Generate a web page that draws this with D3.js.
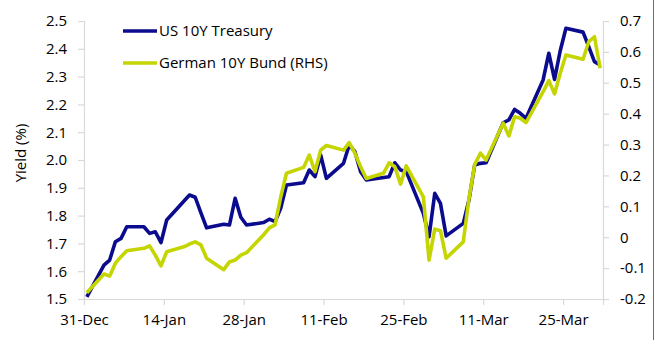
<!DOCTYPE html>
<html>
<head>
<meta charset="utf-8">
<script src="https://cdn.jsdelivr.net/npm/d3@7"></script>
<style>
  body { margin: 0; background: #fff; }
  svg { display: block; font-family: "Open Sans", Lato, sans-serif; }
</style>
</head>
<body>
<div id="chart"></div>
<script>
// trading days, Dec 2021 - Mar 2022
const dates = [
  "2021-12-31",
  "2022-01-03", "2022-01-04", "2022-01-05", "2022-01-06", "2022-01-07",
  "2022-01-10", "2022-01-11", "2022-01-12", "2022-01-13", "2022-01-14",
  "2022-01-17", "2022-01-18", "2022-01-19", "2022-01-20", "2022-01-21",
  "2022-01-24", "2022-01-25", "2022-01-26", "2022-01-27", "2022-01-28",
  "2022-01-31", "2022-02-01", "2022-02-02", "2022-02-03", "2022-02-04",
  "2022-02-07", "2022-02-08", "2022-02-09", "2022-02-10", "2022-02-11",
  "2022-02-14", "2022-02-15", "2022-02-16", "2022-02-17", "2022-02-18",
  "2022-02-21", "2022-02-22", "2022-02-23", "2022-02-24", "2022-02-25",
  "2022-02-28", "2022-03-01", "2022-03-02", "2022-03-03", "2022-03-04",
  "2022-03-07", "2022-03-08", "2022-03-09", "2022-03-10", "2022-03-11",
  "2022-03-14", "2022-03-15", "2022-03-16", "2022-03-17", "2022-03-18",
  "2022-03-21", "2022-03-22", "2022-03-23", "2022-03-24", "2022-03-25",
  "2022-03-28", "2022-03-29", "2022-03-30", "2022-03-31"
];

// US 10Y Treasury yield (%), left axis; null = US holiday
const usYield = [
  1.508,
  1.622, 1.640, 1.706, 1.718, 1.760,
  1.760, 1.736, 1.742, 1.703, 1.784,
  null, 1.874, 1.866, 1.810, 1.756,
  1.769, 1.766, 1.862, 1.794, 1.766,
  1.775, 1.787, 1.778, 1.827, 1.910,
  1.918, 1.964, 1.940, 2.018, 1.934,
  1.988, 2.054, 2.030, 1.958, 1.928,
  null, 1.940, 1.990, 1.964, 1.958,
  1.808, 1.724, 1.880, 1.844, 1.727,
  1.772, 1.856, 1.982, 1.988, 1.990,
  2.134, 2.144, 2.182, 2.168, 2.150,
  2.288, 2.384, 2.290, 2.393, 2.474,
  2.460, 2.408, 2.354, 2.342
];

// German 10Y Bund yield (%), right axis
const bundYield = [
  -0.180,
  -0.119, -0.126, -0.084, -0.063, -0.044,
  -0.036, -0.028, -0.058, -0.093, -0.047,
  -0.031, -0.022, -0.015, -0.025, -0.068,
  -0.105, -0.080, -0.074, -0.058, -0.050,
  0.008, 0.030, 0.040, 0.131, 0.207,
  0.226, 0.266, 0.212, 0.282, 0.297,
  0.282, 0.306, 0.272, 0.228, 0.190,
  0.207, 0.241, 0.228, 0.172, 0.231,
  0.131, -0.074, 0.026, 0.021, -0.068,
  -0.015, 0.125, 0.235, 0.272, 0.250,
  0.369, 0.328, 0.390, 0.385, 0.371,
  0.471, 0.507, 0.464, 0.531, 0.590,
  0.576, 0.633, 0.649, 0.547
];

const xTicks = ["2021-12-31", "2022-01-14", "2022-01-28", "2022-02-11", "2022-02-25", "2022-03-11", "2022-03-25"];
const leftTicks = [1.5, 1.6, 1.7, 1.8, 1.9, 2.0, 2.1, 2.2, 2.3, 2.4, 2.5];
const rightTicks = [-0.2, -0.1, 0, 0.1, 0.2, 0.3, 0.4, 0.5, 0.6, 0.7];

const seriesNames = ["US 10Y Treasury", "German 10Y Bund (RHS)"];
const colors = ["#0B0B8E", "#C5D500"];

const width = 655, height = 351;
const plot = { left: 84, right: 603, top: 21, bottom: 299 };
const axisColor = "#D9D9D9";
const fontSize = "15px";

const parse = d3.utcParse("%Y-%m-%d");
// Excel date axis: point sits in the middle of its day
const mid = d => d3.utcHour.offset(parse(d), 12);

const x = d3.scaleUtc()
  .domain([parse("2021-12-31"), parse("2022-04-01")])
  .range([plot.left, plot.right]);
const yL = d3.scaleLinear().domain([1.5, 2.5]).range([plot.bottom, plot.top]);
const yR = d3.scaleLinear().domain([-0.2, 0.7]).range([plot.bottom, plot.top]);

const svg = d3.select("#chart").append("svg")
  .attr("width", width)
  .attr("height", height);

// frame edge on the right of the picture
svg.append("line")
  .attr("x1", 653.5).attr("x2", 653.5)
  .attr("y1", 0).attr("y2", 340)
  .attr("stroke", "#6b6b6b").attr("stroke-width", 1);

function styleAxis(g) {
  g.select(".domain").attr("stroke", axisColor).attr("stroke-width", 1.2);
  g.selectAll(".tick line").attr("stroke", axisColor).attr("stroke-width", 1.2);
  g.selectAll(".tick text").attr("fill", "#000").attr("font-size", fontSize)
    .attr("font-family", "'Open Sans', Lato, sans-serif");
}

// axes
const xAxis = svg.append("g")
  .attr("transform", `translate(0,${plot.bottom})`)
  .call(d3.axisBottom(x)
    .tickValues(xTicks.map(parse))
    .tickFormat(d3.utcFormat("%d-%b"))
    .tickSizeOuter(0)
    .tickSize(6)
    .tickPadding(9));
styleAxis(xAxis);

const leftAxis = svg.append("g")
  .attr("transform", `translate(${plot.left},0)`)
  .call(d3.axisLeft(yL)
    .tickValues(leftTicks)
    .tickFormat(d3.format(".1f"))
    .tickSizeOuter(0)
    .tickSize(6)
    .tickPadding(11));
styleAxis(leftAxis);

const rightAxis = svg.append("g")
  .attr("transform", `translate(${plot.right},0)`)
  .call(d3.axisRight(yR)
    .tickValues(rightTicks)
    .tickFormat(d => String(+d.toFixed(1)))
    .tickSizeOuter(0)
    .tickSize(6)
    .tickPadding(11));
styleAxis(rightAxis);

svg.append("text")
  .attr("transform", "translate(21,153) rotate(-90)")
  .attr("text-anchor", "middle")
  .attr("dy", "0.35em")
  .attr("font-size", fontSize)
  .attr("fill", "#000")
  .text("Yield (%)");

// lines
const usPoints = dates.map((d, i) => ({ date: mid(d), v: usYield[i] })).filter(p => p.v !== null);
const bundPoints = dates.map((d, i) => ({ date: mid(d), v: bundYield[i] }));

const usLine = d3.line().x(d => x(d.date)).y(d => yL(d.v));
const bundLine = d3.line().x(d => x(d.date)).y(d => yR(d.v));

svg.append("path")
  .datum(usPoints)
  .attr("d", usLine)
  .attr("fill", "none")
  .attr("stroke", colors[0])
  .attr("stroke-width", 3.6)
  .attr("stroke-linejoin", "round");

svg.append("path")
  .datum(bundPoints)
  .attr("d", bundLine)
  .attr("fill", "none")
  .attr("stroke", colors[1])
  .attr("stroke-width", 3.6)
  .attr("stroke-linejoin", "round");

// legend
const legend = svg.append("g")
  .selectAll("g")
  .data(seriesNames)
  .join("g")
  .attr("transform", (d, i) => `translate(123,${31 + i * 32})`);

legend.append("line")
  .attr("x1", 0).attr("x2", 34)
  .attr("stroke", (d, i) => colors[i])
  .attr("stroke-width", 3.6);

legend.append("text")
  .attr("x", 36)
  .attr("dy", "0.35em")
  .attr("font-size", fontSize)
  .attr("fill", "#000")
  .text(d => d);
</script>
</body>
</html>
